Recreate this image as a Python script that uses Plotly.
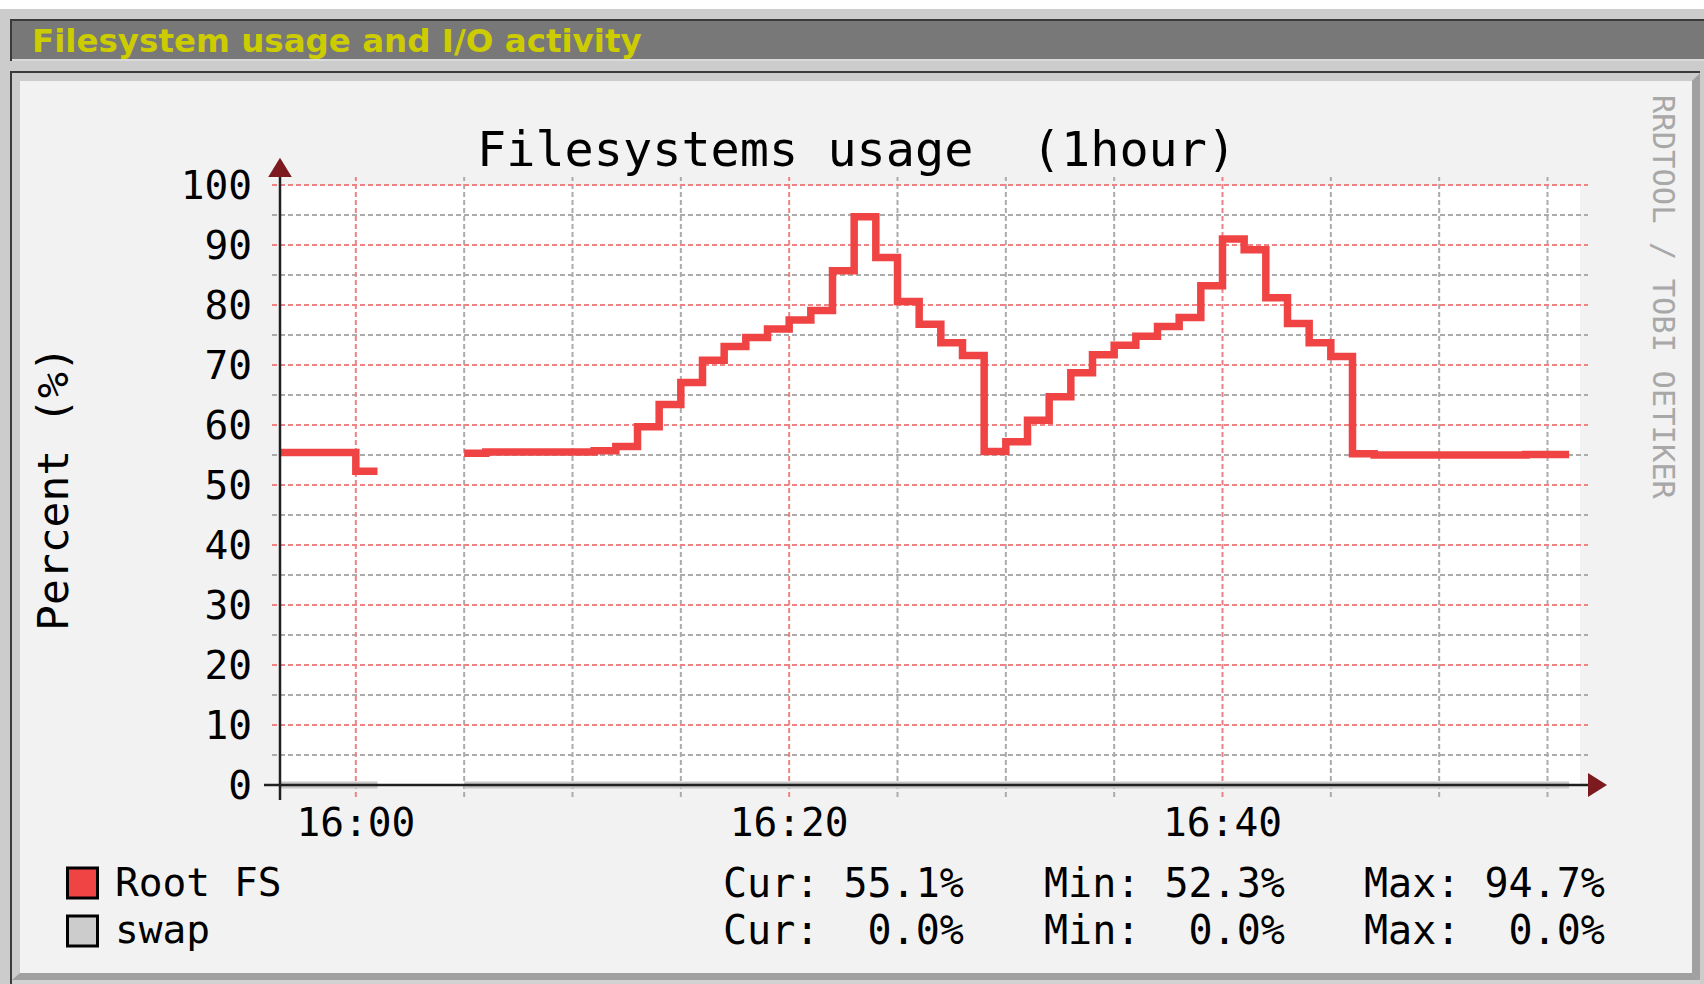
import plotly.graph_objects as go

W, H = 1704, 984
DAY = "2024-05-14 "

# ---------------- data ----------------
root_times = ["15:56:00", "15:57:00", "15:58:00", "15:59:00", "16:00:00", "16:01:00", "16:02:00",
              "16:05:00", "16:06:00", "16:07:00", "16:08:00", "16:09:00", "16:10:00",
              "16:11:00", "16:12:00", "16:13:00", "16:14:00", "16:15:00", "16:16:00",
              "16:17:00", "16:18:00", "16:19:00", "16:20:00", "16:21:00", "16:22:00",
              "16:23:00", "16:24:00", "16:25:00", "16:26:00", "16:27:00", "16:28:00",
              "16:29:00", "16:30:00", "16:31:00", "16:32:00", "16:33:00", "16:34:00",
              "16:35:00", "16:36:00", "16:37:00", "16:38:00", "16:39:00", "16:40:00",
              "16:41:00", "16:42:00", "16:43:00", "16:44:00", "16:45:00", "16:46:00",
              "16:47:00", "16:48:00", "16:49:00", "16:50:00", "16:51:00", "16:52:00",
              "16:53:00", "16:54:00", "16:55:00", "16:56:00"]
root_pct = [55.4, 55.4, 55.4, 55.4, 52.3, 52.3, None,
            55.3, 55.5, 55.5, 55.5, 55.5, 55.5,
            55.7, 56.4, 59.7, 63.4, 67.1, 70.8,
            73.1, 74.6, 76.0, 77.5, 79.1, 85.7,
            94.7, 87.9, 80.6, 76.8, 73.7, 71.6,
            55.6, 57.2, 60.8, 64.7, 68.7, 71.7,
            73.3, 74.8, 76.4, 77.9, 83.2, 91.0,
            89.2, 81.2, 76.9, 73.7, 71.4, 55.2,
            55.0, 55.0, 55.0, 55.0, 55.0, 55.0,
            55.0, 55.1, 55.1, 55.1]
swap_pct = [0.0] * 6 + [None] + [0.0] * 52

series_names = ["Root FS", "swap"]
series_colors = ["#f04444", "#cccccc"]

x_start, x_end = "15:56:30", "16:56:30"
x_major = ["16:00", "16:20", "16:40"]
x_minor = ["16:05", "16:10", "16:15", "16:25", "16:30", "16:35", "16:45", "16:50", "16:55"]
y_major = [0, 10, 20, 30, 40, 50, 60, 70, 80, 90, 100]
y_minor = [5, 15, 25, 35, 45, 55, 65, 75, 85, 95]

MONO = "DejaVu Sans Mono"


def px(x):
    return x / W


def py(y):
    return 1 - y / H


def t(s):
    return DAY + s


fig = go.Figure()
fig.add_trace(go.Scatter(x=[t(s) for s in root_times], y=swap_pct, mode="lines",
                         line=dict(color="#c8c8c8", width=7, shape="hv"),
                         connectgaps=False, name=series_names[1], hoverinfo="skip"))
fig.add_trace(go.Scatter(x=[t(s) for s in root_times], y=root_pct, mode="lines",
                         line=dict(color=series_colors[0], width=7.5, shape="hv"),
                         connectgaps=False, name=series_names[0], hoverinfo="skip"))

shapes = []


def rect(x0, y0, x1, y1, fill, layer="below"):
    shapes.append(dict(type="rect", xref="paper", yref="paper", x0=px(x0), x1=px(x1),
                       y0=py(y0), y1=py(y1), fillcolor=fill, line=dict(width=0), layer=layer))


def poly(pts, fill, layer="below"):
    d = "M " + " L ".join(f"{px(a):.6f},{py(b):.6f}" for a, b in pts) + " Z"
    shapes.append(dict(type="path", xref="paper", yref="paper", path=d, fillcolor=fill,
                       line=dict(width=0), layer=layer))


# page frame
rect(0, 0, W, 9, "#ffffff")
rect(10, 19, W, 61, "#3a3a3a")
rect(12, 21, W, 59, "#787878")
rect(12, 59, W, 61, "#dadada")
rect(10, 71, 1700, H, "#3a3a3a")
rect(12, 73, 1700, H, "#cccccc")
poly([(1692, 81), (1700, 73), (1700, 980), (1692, 973)], "#a0a0a0")
poly([(12, 980), (20, 973), (1692, 973), (1700, 980)], "#a0a0a0")
rect(12, 980, 1700, H, "#d2d2d2")
rect(20, 81, 1692, 973, "#f2f2f2")

# canvas
shapes.append(dict(type="rect", xref="paper", yref="y", x0=px(280), x1=px(1580), y0=0, y1=100,
                   fillcolor="#ffffff", line=dict(width=0), layer="below"))

GRID_MIN = "#ababab"
GRID_MAJ = "#ef8282"
DASH = "5px,3px"
for v in y_minor:
    shapes.append(dict(type="line", xref="paper", yref="y", x0=px(272), x1=px(1588), y0=v, y1=v,
                       line=dict(color=GRID_MIN, width=2, dash=DASH), layer="below"))
for s in x_minor:
    shapes.append(dict(type="line", xref="x", yref="paper", x0=t(s), x1=t(s), y0=py(797), y1=py(177),
                       line=dict(color=GRID_MIN, width=2, dash=DASH), layer="below"))
for v in y_major:
    shapes.append(dict(type="line", xref="paper", yref="y", x0=px(272), x1=px(1588), y0=v, y1=v,
                       line=dict(color=GRID_MAJ, width=2, dash=DASH), layer="below"))
for s in x_major:
    shapes.append(dict(type="line", xref="x", yref="paper", x0=t(s), x1=t(s), y0=py(797), y1=py(177),
                       line=dict(color=GRID_MAJ, width=2, dash=DASH), layer="below"))

# axes + arrows
AX = "#202020"
ARROW = "#7d1a1f"
shapes.append(dict(type="line", xref="paper", yref="paper", x0=px(280), x1=px(280), y0=py(800), y1=py(177),
                   line=dict(color=AX, width=2.5), layer="above"))
shapes.append(dict(type="line", xref="paper", yref="y", x0=px(264), x1=px(1590), y0=0, y1=0,
                   line=dict(color=AX, width=2.5), layer="above"))
poly([(268.2, 177), (280, 157.7), (291.8, 177)], ARROW, layer="above")
poly([(1588, 773), (1607, 785), (1588, 797)], ARROW, layer="above")

# legend swatches
rect_rows = [(868, 898), (916, 946)]
for (y0, y1), col in zip(rect_rows, series_colors):
    shapes.append(dict(type="rect", xref="paper", yref="paper", x0=px(67.5), x1=px(97.5),
                       y0=py(y1), y1=py(y0), fillcolor=col, line=dict(color="#000000", width=3),
                       layer="above"))

annotations = []


def text(x, y, s, size, color="#000000", family=MONO, xanchor="left", angle=0, weight="normal"):
    annotations.append(dict(x=px(x), y=py(y), xref="paper", yref="paper", text=s, showarrow=False,
                            xanchor=xanchor, yanchor="middle", textangle=angle, borderpad=0,
                            borderwidth=0,
                            font=dict(family=family, size=size, color=color, weight=weight)))


text(32, 41, "Filesystem usage and I/O activity", 32.5, color="#cccc00", family="DejaVu Sans",
     weight="bold")
text(856, 149, "Filesystems usage&nbsp;&nbsp;(1hour)", 48.5, xanchor="center")
text(53, 489, "Percent (%)", 43, xanchor="center", angle=-90)
text(1663, 297, "RRDTOOL / TOBI OETIKER", 30.5, color="#a8a8a8", xanchor="center", angle=90)

series_vals = [root_pct, swap_pct]
name_rows = [881.5, 929]
stat_rows = [882.5, 930]
for name, vals, ny, sy in zip(series_names, series_vals, name_rows, stat_rows):
    valid = [v for v in vals if v is not None]
    cur, vmin, vmax = valid[-1], min(valid), max(valid)
    text(114.5, ny, name, 39.5)
    text(723, sy, f"Cur:{cur:5.1f}%".replace(" ", "&nbsp;"), 40)
    text(1043.5, sy, f"Min:{vmin:5.1f}%".replace(" ", "&nbsp;"), 40)
    text(1364, sy, f"Max:{vmax:5.1f}%".replace(" ", "&nbsp;"), 40)

fig.update_layout(
    template="none",
    width=W, height=H, autosize=False,
    margin=dict(l=0, r=0, t=0, b=0, pad=0, autoexpand=False),
    paper_bgcolor="#cccccc", plot_bgcolor="rgba(0,0,0,0)",
    showlegend=False, hovermode=False,
    shapes=shapes, annotations=annotations,
    xaxis=dict(domain=[px(280), px(1580)], type="date", range=[t(x_start), t(x_end)],
               automargin=False,
               showgrid=False, zeroline=False, showline=False, ticks="",
               tickvals=[t(s) for s in x_major], ticktext=x_major,
               tickfont=dict(family=MONO, size=39.5, color="#000000"), ticklabelstandoff=1),
    yaxis=dict(domain=[py(794), py(176)], range=[-1.5, 101.5],
               automargin=False,
               showgrid=False, zeroline=False, showline=False, ticks="",
               tickvals=y_major, ticktext=[str(v) for v in y_major],
               tickfont=dict(family=MONO, size=39.5, color="#000000"), ticklabelstandoff=27),
)

fig.write_html("out.html", config={"displayModeBar": False},
               post_script="document.body.style.margin='0px';document.body.style.overflow='hidden';")
